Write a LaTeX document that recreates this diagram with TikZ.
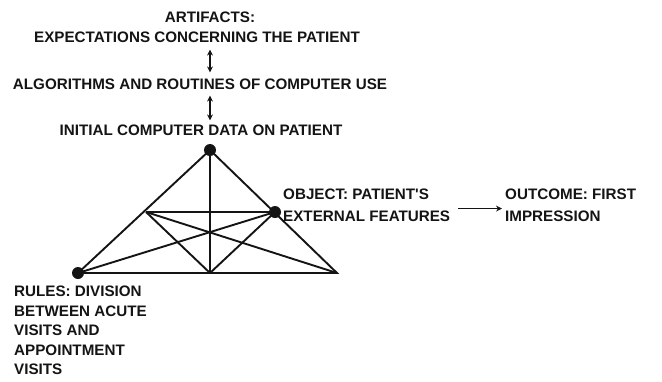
\documentclass[tikz,border=0pt]{standalone}
\usepackage{fontspec}
\setmainfont{Liberation Sans}
\usetikzlibrary{arrows.meta,positioning,calc}
\definecolor{ink}{RGB}{20,20,20}
\tikzset{
  >={Stealth[length=6pt,width=6pt]},
  lbl/.style={inner sep=0pt,font=\fontsize{15.2}{19.5}\selectfont\bfseries,text=ink},
  lbl left/.style={lbl,anchor=north west,align=left},
  dot/.style={circle,fill=ink,inner sep=0pt,minimum size=12pt},
  corner/.style={inner sep=0pt,minimum size=0pt},
  edge/.style={draw=ink,line width=1.9pt},
  link/.style={<->,draw=ink,line width=2pt},
  flow/.style={->,draw=ink,line width=1.3pt},
}

\begin{document}
\begin{tikzpicture}[x=1pt,y=-1pt]
  \useasboundingbox (0,0) rectangle (662,381);
  % upper labels
  \node[lbl] (art) at (210,17) {ARTIFACTS:};
  \node[lbl] (exp) at (197,37) {EXPECTATIONS CONCERNING THE PATIENT};
  \node[lbl] (alg) at (200,84) {ALGORITHMS AND ROUTINES OF COMPUTER USE};
  \node[lbl] (ini) at (201,130) {INITIAL COMPUTER DATA ON PATIENT};
  \draw[link,shorten <=7pt,shorten >=6pt] (exp.south -| art.south) -- (alg.north -| art.south);
  \draw[link,shorten <=6pt,shorten >=4pt] (alg.south -| art.south) -- (ini.north -| art.south);
  % triangle
  \node[dot] (apex) at (210,150) {};
  \node[dot] (obj) at (275,212) {};
  \node[dot] (sub) at (78,273) {};
  \node[corner] (lm) at (146,212) {};
  \node[corner] (bm) at (210,273) {};
  \node[corner] (br) at (337,273) {};
  \draw[edge] (sub.center) -- (apex.center) -- (br.center) -- cycle;
  \draw[edge] (apex.center) -- (bm.center);
  \draw[edge] (lm.center) -- (obj.center);
  \draw[edge] (lm.center) -- (br.center);
  \draw[edge] (lm.center) -- (bm.center);
  \draw[edge] (sub.center) -- (obj.center);
  \draw[edge] (obj.center) -- (bm.center);
  % side labels
  \node[lbl left,font=\fontsize{15.2}{22}\selectfont\bfseries] (objt) at (283,189) {OBJECT: PATIENT\textquotesingle S\\EXTERNAL FEATURES};
  \node[lbl left,font=\fontsize{15.2}{22}\selectfont\bfseries] (out) at (505,189) {OUTCOME: FIRST\\IMPRESSION};
  \draw[flow] ([xshift=8pt,yshift=-3pt]objt.east) -- ([xshift=-3pt,yshift=-3pt]out.west |- objt.east);
  \node[lbl left] (rul) at (14,286) {RULES: DIVISION\\BETWEEN ACUTE\\VISITS AND\\APPOINTMENT\\VISITS};
\end{tikzpicture}
\end{document}
